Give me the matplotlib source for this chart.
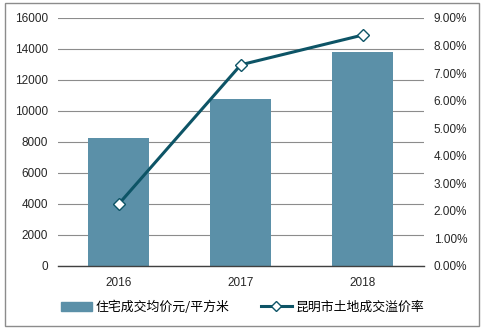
import matplotlib
matplotlib.use("Agg")
import matplotlib.pyplot as plt
import matplotlib.patches as mpatches
import matplotlib.ticker as mticker
from matplotlib.lines import Line2D

# ── data ──────────────────────────────────────────────────────────────────────
years = ["2016", "2017", "2018"]
avg_price = [8260, 10780, 13820]          # 住宅成交均价 元/平方米
premium_rate = [0.0225, 0.0730, 0.0838]  # 昆明市土地成交溢价率

BAR_COL = "#5B90A8"
LINE_COL = "#0D5466"
GRID_COL = "#8C8C8C"
TXT = "#262626"

plt.rcParams["font.family"] = ["Liberation Sans", "Noto Sans CJK SC", "DejaVu Sans"]

fig = plt.figure(figsize=(4.9, 3.32), dpi=100, facecolor="white")
ax = fig.add_axes([0.118, 0.199, 0.747, 0.747])

x = list(range(len(years)))
ax.bar(x, avg_price, width=0.5, color=BAR_COL, zorder=2)
ax.set_xlim(-0.5, 2.5)
ax.set_ylim(0, 16000)
ax.set_yticks(range(0, 16001, 2000))
ax.set_xticks(x)
ax.set_xticklabels(years)
ax.grid(axis="y", color=GRID_COL, linewidth=0.8, zorder=0)
ax.set_axisbelow(True)
for s in ["top", "right", "left"]:
    ax.spines[s].set_visible(False)
ax.spines["bottom"].set_color("#404040")
ax.spines["bottom"].set_linewidth(1.0)
ax.tick_params(axis="both", length=0, labelsize=8.5, colors=TXT)
ax.tick_params(axis="y", pad=7)
ax.tick_params(axis="x", pad=8)

ax2 = ax.twinx()
ax2.plot(x, premium_rate, color=LINE_COL, linewidth=2.2, marker="D",
         markersize=6.5, markerfacecolor="white", markeredgecolor=LINE_COL,
         markeredgewidth=1.0, zorder=3)
ax2.set_ylim(0, 0.09)
ax2.set_yticks([i / 100 for i in range(0, 10)])
ax2.yaxis.set_major_formatter(mticker.FuncFormatter(lambda v, _: f"{v*100:.2f}%"))
for s in ax2.spines.values():
    s.set_visible(False)
ax2.tick_params(axis="y", length=0, labelsize=8.5, colors=TXT, pad=7)

# legend
handles = [
    mpatches.Patch(color=BAR_COL, label="住宅成交均价元/平方米"),
    Line2D([0], [0], color=LINE_COL, linewidth=2.2, marker="D", markersize=5,
           markerfacecolor="white", markeredgecolor=LINE_COL,
           label="昆明市土地成交溢价率"),
]
fig.legend(handles=handles, loc="center", bbox_to_anchor=(0.495, 0.075), ncol=2,
           frameon=False, handlelength=2.4, handletextpad=0.3,
           columnspacing=2.4, prop={"family": ["Noto Sans CJK SC", "DejaVu Sans"], "size": 9.3})

# outer border
fig.patches.append(mpatches.Rectangle((0.011, 0.018), 0.966, 0.973, transform=fig.transFigure,
                                      fill=False, edgecolor="#8C8C8C", linewidth=1.0))

fig.savefig("out.png", dpi=100, facecolor="white")
